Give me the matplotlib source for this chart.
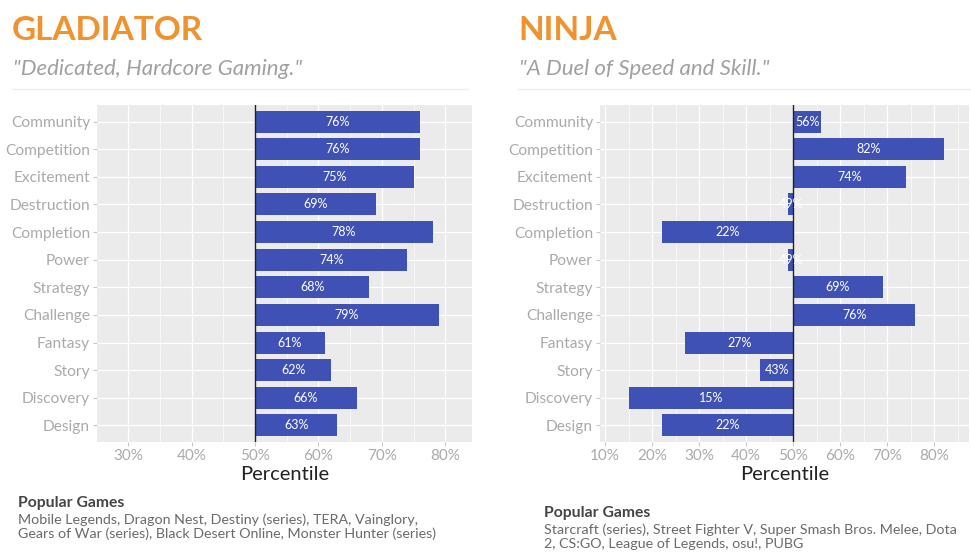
import matplotlib
matplotlib.use("Agg")
import matplotlib.pyplot as plt
import numpy as np

categories = ["Community", "Competition", "Excitement", "Destruction", "Completion", "Power",
              "Strategy", "Challenge", "Fantasy", "Story", "Discovery", "Design"]
gladiator = [76, 76, 75, 69, 78, 74, 68, 79, 61, 62, 66, 63]
ninja = [56, 82, 74, 49, 22, 49, 69, 76, 27, 43, 15, 22]

gladiator_ticks = [30, 40, 50, 60, 70, 80]
ninja_ticks = [10, 20, 30, 40, 50, 60, 70, 80]

titles = ["GLADIATOR", "NINJA"]
subtitles = ['"Dedicated, Hardcore Gaming."', '"A Duel of Speed and Skill."']
games = ["Mobile Legends, Dragon Nest, Destiny (series), TERA, Vainglory,\nGears of War (series), Black Desert Online, Monster Hunter (series)",
         "Starcraft (series), Street Fighter V, Super Smash Bros. Melee, Dota\n2, CS:GO, League of Legends, osu!, PUBG"]

plt.rcParams['font.family'] = ['Lato', 'DejaVu Sans']

W, H = 971, 560
fig = plt.figure(figsize=(W / 100, H / 100), dpi=100)
fig.patch.set_facecolor("white")

BAR = "#3F51B5"
ORANGE = "#F0922E"


def fx(px):
    return px / W


def fy(py):
    return 1 - py / H


def panel(rect, values, ticks, xlim):
    ax = fig.add_axes(rect)
    ax.set_facecolor("#EBEBEB")
    n = len(categories)
    ypos = np.arange(n)[::-1]
    ax.set_xlim(*xlim)
    ax.set_ylim(-0.6, n - 0.4)
    for t in ticks:
        ax.axvline(t, color="white", lw=0.9, zorder=1)
    minor = np.arange(ticks[0] - 5, ticks[-1] + 10, 10)
    for t in minor:
        ax.axvline(t, color="white", lw=0.45, zorder=1)
    for y in ypos:
        ax.axhline(y, color="white", lw=0.9, zorder=1)
    widths = [v - 50 for v in values]
    ax.barh(ypos, widths, left=50, height=0.8, color=BAR, zorder=2)
    ax.axvline(50, color="#222222", lw=1.0, zorder=3)
    for y, v in zip(ypos, values):
        ax.text((50 + v) / 2, y, f"{v}%", color="white", ha="center", va="center",
                fontsize=9, zorder=4)
    ax.set_yticks(ypos)
    ax.set_yticklabels(categories, fontsize=11.2, color="#AAAAAA")
    ax.set_xticks(ticks)
    ax.set_xticklabels([f"{t}%" for t in ticks], fontsize=11, color="#AAAAAA")
    ax.tick_params(axis="both", length=3, color="#C8C8C8", width=0.8, pad=2)
    for s in ax.spines.values():
        s.set_visible(False)
    ax.set_xlabel("Percentile", fontsize=14.5, color="#222222", labelpad=2)
    return ax


ax1 = panel([fx(97), fy(442), fx(472 - 97), (442 - 105) / H], gladiator, gladiator_ticks, (25.1, 84.2))
ax2 = panel([fx(600), fy(442), fx(969 - 600), (442 - 105) / H], ninja, ninja_ticks, (8.9, 87.4))

# headers
for x0, x1, title, sub in [(12, 468, titles[0], subtitles[0]), (518, 971, titles[1], subtitles[1])]:
    fig.text(fx(x0), fy(31), title, fontsize=24, fontweight="bold", color=ORANGE, va="center", ha="left")
    fig.text(fx(x0 + 1), fy(69), sub, fontsize=16, style="italic", color="#A0A0A0", va="center", ha="left")
    fig.add_artist(plt.Line2D([fx(x0), fx(x1)], [fy(89), fy(89)], color="#EEEEEE", lw=1.0))

# popular games
for x0, ytop, g in [(18, 503, games[0]), (544, 513, games[1])]:
    fig.text(fx(x0), fy(ytop), "Popular Games", fontsize=11.3, fontweight="bold", color="#444444",
             va="center", ha="left")
    fig.text(fx(x0), fy(ytop + 10), g, fontsize=10.3, color="#6A6A6A", va="top", ha="left",
             linespacing=1.2)

fig.savefig("out.png", dpi=100, facecolor="white")
